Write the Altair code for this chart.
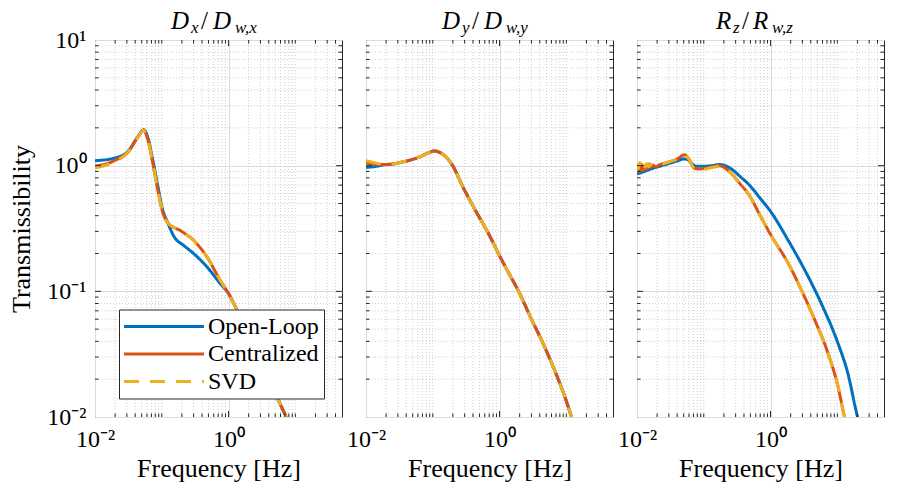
import altair as alt
import pandas as pd

FONT = "Liberation Serif"
SERIES = ["Open-Loop", "Centralized", "SVD"]
COLORS = ["#0072BD", "#D95319", "#EDB120"]
DASHES = [[1, 0], [1, 0], [15, 11]]

X_DOMAIN = [0.01, 50]
Y_DOMAIN = [0.01, 10]
X_TICKS = [0.01, 1]
X_TICK_LABELS = ["10⁻²", "10⁰"]
Y_TICKS = [0.01, 0.1, 1, 10]
Y_TICK_LABELS = ["10⁻²", "10⁻¹", "10⁰", "10¹"]
X_MINOR = [0.02, 0.03, 0.04, 0.05, 0.06, 0.07, 0.08, 0.09, 0.1,
           0.2, 0.3, 0.4, 0.5, 0.6, 0.7, 0.8, 0.9,
           2, 3, 4, 5, 6, 7, 8, 9, 10, 20, 30, 40]
X_MAJOR = [1]
Y_MINOR = [0.02, 0.03, 0.04, 0.05, 0.06, 0.07, 0.08, 0.09,
           0.2, 0.3, 0.4, 0.5, 0.6, 0.7, 0.8, 0.9,
           2, 3, 4, 5, 6, 7, 8, 9]
Y_MAJOR = [0.1, 1]

X_TITLE = "Frequency [Hz]"
Y_TITLE = "Transmissibility"
PANEL_TITLES = [["D", "x", "/", "D", "w,x"],
                ["D", "y", "/", "D", "w,y"],
                ["R", "z", "/", "R", "w,z"]]

# ---- Panel 1 : D_x / D_w,x ----
P1_F_OL = [0.01, 0.0198, 0.0312, 0.0437, 0.0537, 0.0617, 0.0731, 0.0867, 0.1028, 0.122,
           0.153, 0.215, 0.303, 0.478, 0.753, 1.0, 1.33, 1.8, 2.34, 3.5, 5.5, 7.3, 9.0]
P1_T_OL = [1.095, 1.15, 1.3, 1.7, 1.93, 1.68, 1.12, 0.7, 0.45, 0.355,
           0.272, 0.231, 0.199, 0.156, 0.115, 0.096, 0.071, 0.049, 0.036, 0.0225, 0.0138, 0.01, 0.0079]
P1_F_C = [0.01, 0.0198, 0.0312, 0.0437, 0.0537, 0.0617, 0.0731, 0.0867, 0.1028, 0.122,
          0.192, 0.303, 0.478, 0.753, 1.0, 1.33, 1.8, 2.34, 3.5, 5.5, 7.3, 9.0]
P1_T_C = [0.99, 1.1, 1.28, 1.68, 1.91, 1.62, 1.06, 0.65, 0.43, 0.352,
          0.303, 0.253, 0.187, 0.122, 0.096, 0.071, 0.049, 0.036, 0.0225, 0.0138, 0.01, 0.0079]
P1_T_S = [0.96, 1.08, 1.28, 1.68, 1.91, 1.62, 1.06, 0.65, 0.43, 0.352,
          0.303, 0.253, 0.187, 0.122, 0.096, 0.071, 0.049, 0.036, 0.0225, 0.0138, 0.01, 0.0079]

# ---- Panel 2 : D_y / D_w,y ----
P2_F = [0.01, 0.013, 0.016, 0.0193, 0.025, 0.035, 0.048, 0.06, 0.085, 0.105,
        0.12, 0.134, 0.155, 0.188, 0.296, 0.416, 0.736, 0.976, 1.456, 1.93,
        2.88, 4.53, 7.16, 9.5, 11.9, 14.0]
P2_T_OL = [0.97, 0.98, 1.0, 1.02, 1.03, 1.07, 1.115, 1.16, 1.26, 1.31,
           1.29, 1.255, 1.18, 1.048, 0.645, 0.46, 0.267, 0.197, 0.132, 0.1,
           0.063, 0.038, 0.0215, 0.0145, 0.0101, 0.0078]
P2_T_C = [1.05, 1.03, 1.02, 1.02, 1.03, 1.07, 1.115, 1.16, 1.26, 1.31,
          1.29, 1.255, 1.18, 1.048, 0.645, 0.46, 0.267, 0.197, 0.132, 0.1,
          0.063, 0.038, 0.0215, 0.0145, 0.0101, 0.0078]
P2_T_S = [1.095, 1.06, 1.03, 1.02, 1.03, 1.07, 1.115, 1.16, 1.26, 1.31,
          1.29, 1.255, 1.18, 1.048, 0.645, 0.46, 0.267, 0.197, 0.132, 0.1,
          0.063, 0.038, 0.0215, 0.0145, 0.0101, 0.0078]

# ---- Panel 3 : R_z / R_w,z ----
P3_F_OL = [0.01, 0.013, 0.016, 0.022, 0.03, 0.04, 0.05, 0.057, 0.066, 0.077,
           0.1, 0.13, 0.17, 0.21, 0.267, 0.35, 0.472, 0.7, 0.99, 1.85,
           3.27, 5.75, 10.2, 14.3, 20.1, 24.0]
P3_T_OL = [0.86, 0.9, 0.94, 0.99, 1.04, 1.09, 1.13, 1.12, 1.04, 0.99,
           0.99, 1.0, 1.02, 1.0, 0.93, 0.82, 0.709, 0.55, 0.436, 0.253,
           0.147, 0.08, 0.0388, 0.0225, 0.01, 0.0072]
P3_F_C = [0.01, 0.0105, 0.011, 0.0118, 0.0125, 0.0133, 0.014, 0.015, 0.016, 0.0175,
          0.019, 0.022, 0.03, 0.04, 0.0514, 0.061, 0.0723, 0.085, 0.108, 0.17,
          0.267, 0.35, 0.472, 0.7, 0.99, 1.85, 2.91, 4.59, 7.23, 10.2,
          12.8, 15.5]
P3_T_C = [0.93, 1.0, 0.9, 1.02, 0.92, 1.0, 0.94, 1.03, 0.97, 1.01,
          0.98, 1.02, 1.07, 1.13, 1.22, 1.115, 0.957, 0.94, 0.957, 1.0,
          0.85, 0.716, 0.59, 0.40, 0.286, 0.166, 0.102, 0.0592, 0.0323, 0.0176,
          0.01, 0.0068]
P3_T_S = [1.05, 0.95, 1.06, 0.96, 1.05, 0.97, 1.04, 0.98, 1.03, 0.99,
          1.02, 1.02, 1.07, 1.13, 1.22, 1.11, 0.94, 0.92, 0.94, 0.99,
          0.85, 0.716, 0.59, 0.40, 0.286, 0.166, 0.102, 0.0592, 0.0323, 0.0176,
          0.01, 0.0068]


def series_frame(fs, ts, name):
    return pd.DataFrame({"f": fs, "T": ts, "series": name})


PANEL_DATA = [
    pd.concat([series_frame(P1_F_OL, P1_T_OL, SERIES[0]),
               series_frame(P1_F_C, P1_T_C, SERIES[1]),
               series_frame(P1_F_C, P1_T_S, SERIES[2])]),
    pd.concat([series_frame(P2_F, P2_T_OL, SERIES[0]),
               series_frame(P2_F, P2_T_C, SERIES[1]),
               series_frame(P2_F, P2_T_S, SERIES[2])]),
    pd.concat([series_frame(P3_F_OL, P3_T_OL, SERIES[0]),
               series_frame(P3_F_C, P3_T_C, SERIES[1]),
               series_frame(P3_F_C, P3_T_S, SERIES[2])]),
]

W, H = 247, 377
GRID_C = "#dcdcdc"
MINOR_C = "#c4c4c4"
TICK_C = "#262626"
XS = alt.Scale(type="log", domain=X_DOMAIN, nice=False)
YS = alt.Scale(type="log", domain=Y_DOMAIN, nice=False)

# title pieces layout: (x offset, font size, style, baseline y)
MAIN, SUB = 25, 17
TITLE_LAYOUT = [
    [(76, MAIN, "italic", -11), (96, SUB, "italic", -7), (106, MAIN, "normal", -11),
     (118, MAIN, "italic", -11), (140, SUB, "italic", -7)],
    [(76, MAIN, "italic", -11), (96, SUB, "italic", -7), (106, MAIN, "normal", -11),
     (118, MAIN, "italic", -11), (140, SUB, "italic", -7)],
    [(79, MAIN, "italic", -11), (96, SUB, "italic", -7), (105, MAIN, "normal", -11),
     (116, MAIN, "italic", -11), (135, SUB, "italic", -7)],
]


def label_expr(values, labels):
    parts = [f"abs(datum.value - {v}) < {v * 1e-3} ? '{l}'" for v, l in zip(values, labels)]
    return " : ".join(parts) + " : ''"


def make_panel(idx):
    df = PANEL_DATA[idx]
    first = idx == 0

    x_axis = alt.Axis(values=X_TICKS, labelExpr=label_expr(X_TICKS, X_TICK_LABELS),
                      title=X_TITLE, grid=True, gridColor=GRID_C, gridWidth=1,
                      ticks=False, tickSize=0, domain=False,
                      labelFont=FONT, labelFontSize=24, labelColor="black",
                      labelPadding=10, labelFlush=False, labelOverlap=False,
                      titleFont=FONT, titleFontSize=26, titleFontWeight="normal",
                      titleColor="black", titlePadding=4)
    if first:
        y_axis = alt.Axis(values=Y_TICKS, labelExpr=label_expr(Y_TICKS, Y_TICK_LABELS),
                          title=Y_TITLE, grid=True, gridColor=GRID_C, gridWidth=1,
                          ticks=False, tickSize=0, domain=False,
                          labelFont=FONT, labelFontSize=24, labelColor="black",
                          labelPadding=9, labelFlush=False, labelOverlap=False,
                          titleFont=FONT, titleFontSize=26, titleFontWeight="normal",
                          titleColor="black", titlePadding=12)
        leg = alt.Legend(title=None, orient="none", legendX=24, legendY=269.5,
                         direction="vertical",
                         symbolType="M-4,0L4,0", symbolSize=400, symbolStrokeWidth=3,
                         symbolOffset=28, labelOffset=32,
                         labelFont=FONT, labelFontSize=24, labelColor="black",
                         fillColor="white", strokeColor=TICK_C, padding=5,
                         rowPadding=3.5, cornerRadius=0)
    else:
        y_axis = alt.Axis(values=Y_TICKS, labels=False, title=None, grid=True,
                          gridColor=GRID_C, gridWidth=1, ticks=False, tickSize=0,
                          domain=False)
        leg = None

    X_g = alt.X("g:Q", scale=XS, axis=x_axis)
    Y_g = alt.Y("g:Q", scale=YS, axis=y_axis)

    grid_x = alt.Chart(pd.DataFrame({"g": X_MINOR})).mark_rule(
        color=MINOR_C, strokeDash=[1, 2], strokeWidth=0.8
    ).encode(x=X_g)
    grid_y = alt.Chart(pd.DataFrame({"g": Y_MINOR})).mark_rule(
        color=MINOR_C, strokeDash=[1, 2], strokeWidth=0.8
    ).encode(y=Y_g)

    ticks = []
    for vals, L in ((X_MINOR, 3.5), (X_MAJOR, 6)):
        src = alt.Chart(pd.DataFrame({"g": vals}))
        for y0, y1 in ((0, L), (H, H - L)):
            ticks.append(src.mark_rule(color=TICK_C, strokeWidth=1).encode(
                x=X_g, y=alt.value(y0), y2=alt.value(y1)))
    for vals, L in ((Y_MINOR, 3.5), (Y_MAJOR, 6)):
        src = alt.Chart(pd.DataFrame({"g": vals}))
        for x0, x1 in ((0, L), (W, W - L)):
            ticks.append(src.mark_rule(color=TICK_C, strokeWidth=1).encode(
                y=Y_g, x=alt.value(x0), x2=alt.value(x1)))

    lines = []
    for s in SERIES:
        lines.append(
            alt.Chart(df).transform_filter(alt.datum.series == s).mark_line(
                clip=True, strokeWidth=3, interpolate="monotone"
            ).encode(
                x=alt.X("f:Q", scale=XS, axis=x_axis),
                y=alt.Y("T:Q", scale=YS, axis=y_axis),
                color=alt.Color("series:N", scale=alt.Scale(domain=SERIES, range=COLORS), legend=leg),
                strokeDash=alt.StrokeDash("series:N", scale=alt.Scale(domain=SERIES, range=DASHES), legend=leg),
            )
        )

    one = pd.DataFrame({"k": [0]})
    texts = []
    for piece, (dx, size, style, base) in zip(PANEL_TITLES[idx], TITLE_LAYOUT[idx]):
        texts.append(alt.Chart(one).mark_text(
            text=piece, font=FONT, fontSize=size, fontStyle=style,
            align="left", baseline="alphabetic", color="black"
        ).encode(x=alt.value(dx), y=alt.value(base)))

    return alt.layer(grid_x, grid_y, *lines, *ticks, *texts).properties(width=W, height=H)


chart = alt.hconcat(
    make_panel(0), make_panel(1), make_panel(2), spacing=24, bounds="flush"
).resolve_scale(
    color="independent", strokeDash="independent"
).properties(
    padding={"left": 0, "top": 0, "right": 0, "bottom": 0}, background="white"
).configure_view(stroke=TICK_C, strokeWidth=1)

chart.save("out.html", embed_options={"renderer": "svg", "actions": False})
